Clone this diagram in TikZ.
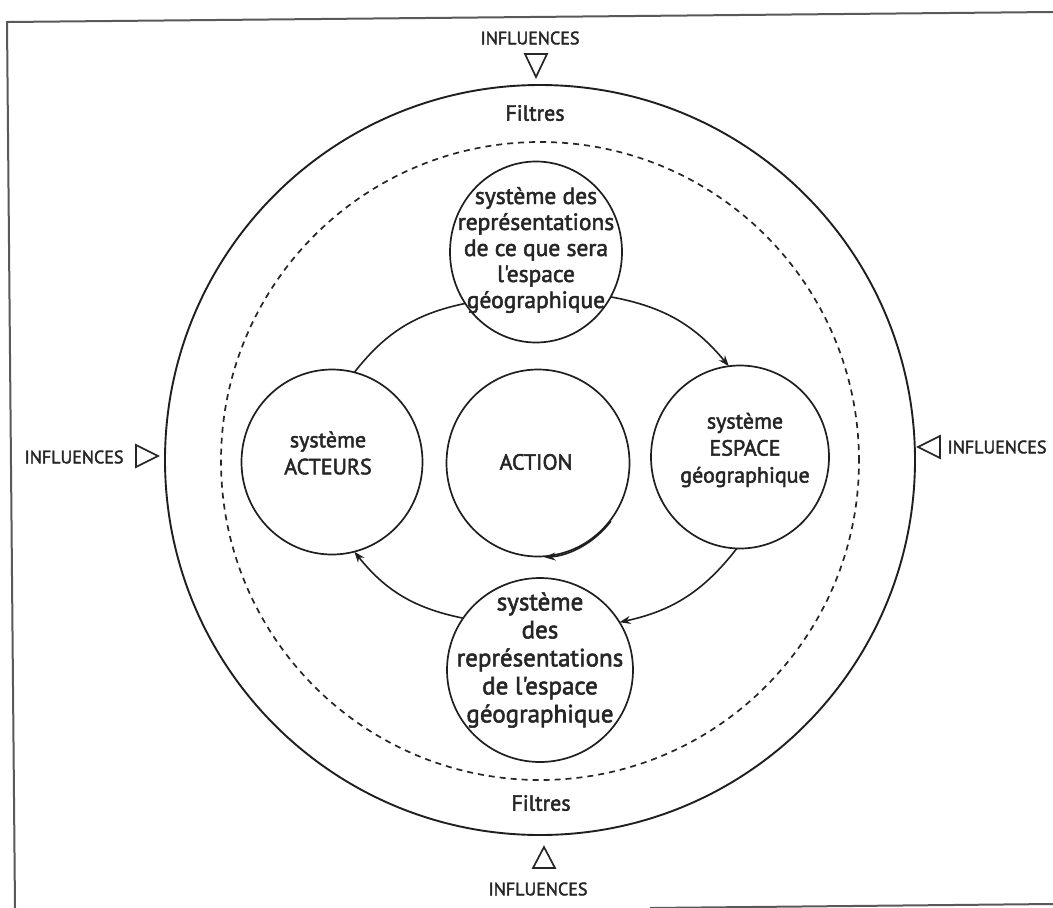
\documentclass[tikz,border=0pt]{standalone}
\usepackage{fontspec}
\setmainfont{PT Sans}
\newfontfamily\semib{PT Sans}[FakeBold=2.2]
\usetikzlibrary{shapes.geometric,arrows.meta,calc}
\begin{document}
\begin{tikzpicture}[x=1pt,y=1pt,
  ln/.style={line width=1.7pt, draw=black!88},
  sysnode/.style={ellipse, ln, inner sep=0pt, outer sep=0pt},
  txt/.style={font=\semib\fontsize{22}{27}\selectfont, align=center, text=black!85, inner sep=0pt},
  infl/.style={font=\semib\fontsize{18}{20}\selectfont, text=black!85, inner sep=0pt},
  filt/.style={font=\semib\fontsize{22}{24}\selectfont, text=black!85, inner sep=0pt},
  tri/.style={line width=1.7pt, draw=black!85, line join=miter},
  cyc/.style={line width=1.6pt, draw=black!88, -{Stealth[length=11pt,width=8pt]}},
]
\useasboundingbox (0,0) rectangle (1053,-908);
\fill[white] (0,0) rectangle (1053,-908);
% frame
\draw[line width=2pt, black!65] (1053,-12) -- (7,-22) -- (15,-908);
\draw[line width=2pt, black!65] (650,-908) -- (1053,-904);
% outer and filter circles
\node[circle, draw=black!88, line width=1.9pt, minimum size=750pt, inner sep=0pt, outer sep=0pt] (outer) at (540,-460) {};
\node[circle, draw=black!85, dash pattern=on 6pt off 5pt, line width=1.7pt, minimum size=638pt, inner sep=0pt, outer sep=0pt] (filter) at (540,-461) {};
% system circles
\node[sysnode, minimum width=172pt, minimum height=181pt] (top) at (536,-252) {};
\node[sysnode, minimum width=186pt, minimum height=184pt] (bot) at (540,-670) {};
\node[sysnode, minimum width=181pt, minimum height=185pt] (act) at (332,-462) {};
\node[sysnode, minimum width=183pt, minimum height=187pt] (action) at (538,-463) {};
\node[sysnode, minimum width=178pt, minimum height=183pt] (esp) at (740,-457) {};
% texts
\node[txt, font=\semib\fontsize{23.5}{26}\selectfont] (toptxt) at (536,-250) {système des\\représentations\\de ce que sera\\l'espace\\géographique};
\node[txt, font=\semib\fontsize{25}{28}\selectfont] (bottxt) at (540,-660) {système\\des\\représentations\\de l'espace\\géographique};
\node[txt] (acttxt) at (328,-453) {système\\ACTEURS};
\node[txt] (actiontxt) at (536,-462) {ACTION};
\node[txt] (esptxt) at (745,-450) {système\\ESPACE\\géographique};
\node[filt] (filtop) at (535,-113) {Filtres};
\node[filt] (filbot) at (541,-803) {Filtres};
\node[infl] (inftop) at (530,-38) {INFLUENCES};
\node[infl] (infbot) at (538,-889) {INFLUENCES};
\node[infl] (infleft) at (74,-457) {INFLUENCES};
\node[infl] (infright) at (997,-447) {INFLUENCES};
% triangles
\draw[tri] (525,-54) -- (547,-54) -- (536,-77) -- cycle;
\draw[tri] (533,-868) -- (555,-868) -- (544,-847) -- cycle;
\draw[tri] (136,-445) -- (136,-467) -- (158,-456) -- cycle;
\draw[tri] (940,-436) -- (940,-458) -- (918,-447) -- cycle;
% cycle connectors
\draw[cyc, -] (act.76) to[bend left=20] (top.216);
\draw[cyc] (top.329) to[bend left=20] (esp.97);
\draw[cyc] (esp.268) to[bend left=20] (bot.31);
\draw[cyc] (bot.146) to[bend left=20] (act.284);
\draw[cyc] ($(action.center)+(-38:92.5pt and 94.5pt)$) arc[start angle=-38, end angle=-86, x radius=92.5pt, y radius=94.5pt];
\end{tikzpicture}
\end{document}
